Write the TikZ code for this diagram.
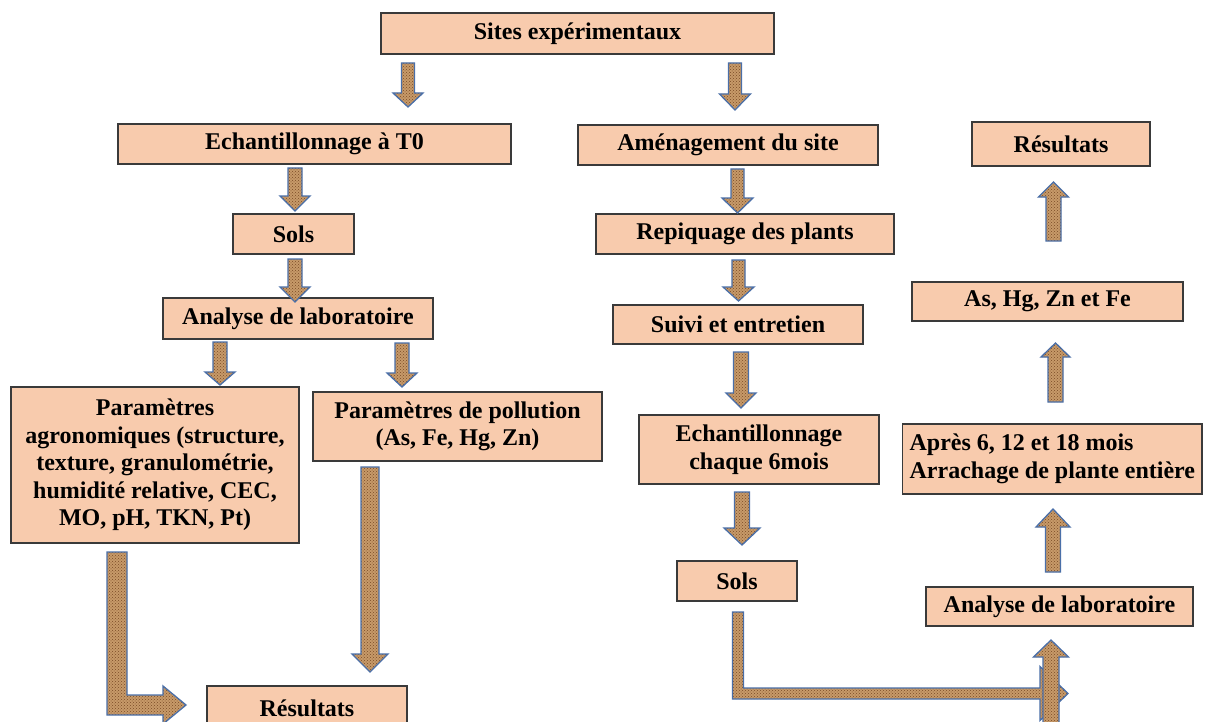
\documentclass[tikz,border=0pt]{standalone}
\usepackage{fontspec}
\setmainfont{Liberation Serif}
\usepackage{tikz}
\usepackage{xcolor}
\usetikzlibrary{calc,patterns}

\definecolor{saumon}{HTML}{F8CBAD}
\definecolor{bordboite}{HTML}{3A3A3A}
\definecolor{liege}{HTML}{C79A69}
\definecolor{liegefonce}{HTML}{7A4A25}
\definecolor{bordfleche}{HTML}{4A6FA8}

\tikzset{
  boite/.style={draw=bordboite, line width=1.2pt, fill=saumon, inner sep=0pt, align=center,
    font=\fontsize{24}{27.5}\selectfont\bfseries},
  fleche/.style={preaction={fill=liege}, preaction={pattern=crosshatch dots, pattern color=liegefonce},
    draw=bordfleche, line width=1.3pt, line join=miter}
}

% fleche droite : depart, pointe, demi-fut, demi-tete, longueur tete
\newcommand{\flechebloc}[5]{%
  \path[fleche] let \p1=(#1), \p2=(#2), \n1={atan2(\y2-\y1,\x2-\x1)} in
    ($(\p1)+(\n1+90:#3)$) -- ($(\p2)+(\n1+180:#5)+(\n1+90:#3)$)
    -- ($(\p2)+(\n1+180:#5)+(\n1+90:#4)$) -- (\p2)
    -- ($(\p2)+(\n1+180:#5)+(\n1-90:#4)$) -- ($(\p2)+(\n1+180:#5)+(\n1-90:#3)$)
    -- ($(\p1)+(\n1-90:#3)$) -- cycle;
}
% fleche coudee (vers le bas puis a droite)
\newcommand{\flechecoude}[5]{%
  \path[fleche] let \p1=(#1), \p2=(#2) in
    (\x1-#3,\y1) -- (\x1-#3,\y2-#3) -- (\x2-#5,\y2-#3) -- (\x2-#5,\y2-#4) -- (\p2)
    -- (\x2-#5,\y2+#4) -- (\x2-#5,\y2+#3) -- (\x1+#3,\y2+#3) -- (\x1+#3,\y1) -- cycle;
}

\begin{document}
\begin{tikzpicture}[x=1pt,y=-1pt]
\useasboundingbox (0,0) rectangle (1217,722);
\fill[white] (0,0) rectangle (1217,722);

% boites
\node[boite, minimum width=393pt, minimum height=41pt] (sites) at (577.5,33.5) {Sites expérimentaux};
\node[boite, minimum width=393pt, minimum height=40pt] (echT0) at (314.5,144) {Echantillonnage à T0};
\node[boite, minimum width=300pt, minimum height=40pt] (amenag) at (728,145) {Aménagement du site};
\node[boite, minimum width=178pt, minimum height=44pt] (resHaut) at (1061,144) {Résultats};
\node[boite, minimum width=121pt, minimum height=40pt] (solsG) at (293.5,234) {Sols};
\node[boite, minimum width=298pt, minimum height=40pt] (repiq) at (745,234) {Repiquage des plants};
\node[boite, minimum width=270pt, minimum height=41pt] (analyseG) at (298,318.5) {Analyse de laboratoire};
\node[boite, minimum width=250pt, minimum height=39pt] (suivi) at (738,324.5) {Suivi et entretien};
\node[boite, minimum width=271pt, minimum height=39pt] (metaux) at (1047.5,301.5) {As, Hg, Zn et Fe};
\node[boite, minimum width=288pt, minimum height=156pt] (agro) at (155,465)
  {Paramètres\\agronomiques (structure,\\texture, granulométrie,\\humidité relative, CEC,\\MO, pH, TKN, Pt)};
\node[boite, minimum width=289pt, minimum height=69pt] (pollu) at (457.5,426.5)
  {Paramètres de pollution\\(As, Fe, Hg, Zn)};
\node[boite, minimum width=240pt, minimum height=69pt] (echMois) at (759,449.5)
  {Echantillonnage\\chaque 6mois};
\node[boite, align=left, inner xsep=7pt, minimum height=70pt, anchor=west] (apres) at (902,459)
  {Après 6, 12 et 18 mois\\Arrachage de plante entière};
\node[boite, minimum width=120pt, minimum height=40pt] (solsD) at (737,581) {Sols};
\node[boite, minimum width=267pt, minimum height=39pt] (analyseD) at (1059.5,606.5) {Analyse de laboratoire};
\node[boite, minimum width=200pt, minimum height=44pt] (resBas) at (307,708) {Résultats};

% extremites des fleches
\coordinate (f1h) at (408,63);     \coordinate (f1b) at (408,107);
\coordinate (f2h) at (735,63);     \coordinate (f2b) at (735,110);
\coordinate (f3h) at (295,168);    \coordinate (f3b) at (295,211);
\coordinate (f4h) at (295,259);    \coordinate (f4b) at (295,302);
\coordinate (f5h) at (220,342);    \coordinate (f5b) at (220,385);
\coordinate (f6h) at (402,343);    \coordinate (f6b) at (402,387);
\coordinate (f7h) at (737.5,169);  \coordinate (f7b) at (737.5,213);
\coordinate (f8h) at (738.5,260);  \coordinate (f8b) at (738.5,301);
\coordinate (f9h) at (741,352);    \coordinate (f9b) at (741,408);
\coordinate (f10h) at (742,492);   \coordinate (f10b) at (742,545);
\coordinate (f11h) at (370,467);   \coordinate (f11b) at (370,672);
\coordinate (f12b) at (1053.5,241); \coordinate (f12h) at (1053.5,182);
\coordinate (f13b) at (1055.5,402); \coordinate (f13h) at (1055.5,343);
\coordinate (f14b) at (1053,572);  \coordinate (f14h) at (1053,509);
\coordinate (f15b) at (1051,735);  \coordinate (f15h) at (1051,640);
\coordinate (c1h) at (117,552);    \coordinate (c1p) at (186,705);
\coordinate (c2h) at (738,612);    \coordinate (c2p) at (1068,693.5);

% fleches vers le bas
\flechebloc{f1h}{f1b}{6.5pt}{15pt}{14pt}
\flechebloc{f2h}{f2b}{6.5pt}{15.5pt}{16pt}
\flechebloc{f3h}{f3b}{7pt}{15pt}{15pt}
\flechebloc{f4h}{f4b}{7pt}{15pt}{15pt}
\flechebloc{f5h}{f5b}{7pt}{15pt}{13pt}
\flechebloc{f6h}{f6b}{7pt}{15pt}{14pt}
\flechebloc{f7h}{f7b}{6.5pt}{15.5pt}{15pt}
\flechebloc{f8h}{f8b}{6.5pt}{15.5pt}{14pt}
\flechebloc{f9h}{f9b}{7.5pt}{15pt}{15pt}
\flechebloc{f10h}{f10b}{7.5pt}{18pt}{17pt}
\flechebloc{f11h}{f11b}{9pt}{18pt}{18pt}
% fleches vers le haut
\flechebloc{f12b}{f12h}{7.5pt}{15pt}{15pt}
\flechebloc{f13b}{f13h}{7.5pt}{14.5pt}{14pt}
\flechebloc{f14b}{f14h}{7.5pt}{17pt}{18pt}
% fleches coudees
\flechecoude{c1h}{c1p}{10pt}{19pt}{23pt}
\flechecoude{c2h}{c2p}{5.5pt}{27pt}{28pt}
\flechebloc{f15b}{f15h}{8pt}{17.5pt}{17pt}
\end{tikzpicture}
\end{document}
